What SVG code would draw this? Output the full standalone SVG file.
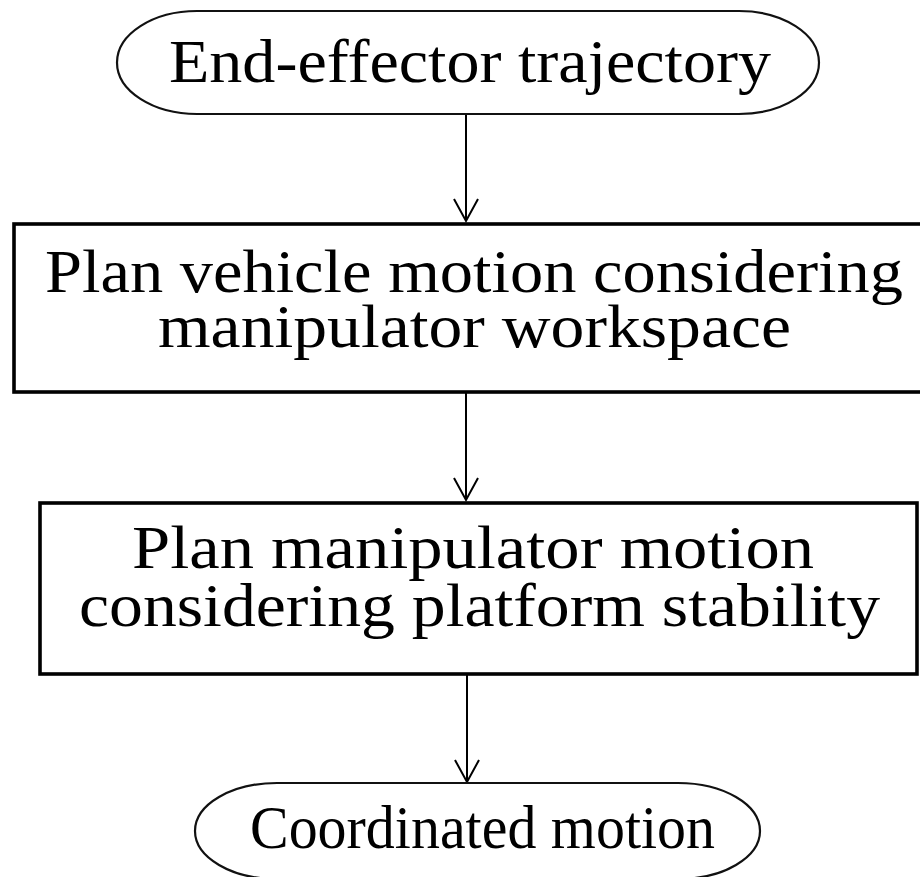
<svg xmlns="http://www.w3.org/2000/svg" width="920" height="877" viewBox="0 0 920 877">
  <defs>
    <style>
      .terminal { fill: #ffffff; stroke: #111111; stroke-width: 2.2; }
      .process { fill: #ffffff; stroke: #000000; stroke-width: 3.6; }
      .label { font-family: "Liberation Serif", "Times New Roman", serif; font-size: 61px; fill: #000000; }
      .flow { fill: none; stroke: #000000; stroke-width: 2; }
    </style>
    <!-- open V arrowhead, tip at the end of the line -->
    <marker id="vhead" markerUnits="userSpaceOnUse" markerWidth="26" markerHeight="28"
            viewBox="0 0 26 28" refX="23" refY="13" orient="auto">
      <path d="M1,1 L23,13 L1,25" fill="none" stroke="#000000" stroke-width="2"/>
    </marker>
  </defs>

  <rect x="0" y="0" width="920" height="877" fill="#ffffff"/>

  <g id="connectors">
    <line class="flow" x1="466" y1="114" x2="466" y2="221" marker-end="url(#vhead)"/>
    <line class="flow" x1="466" y1="392" x2="466" y2="500" marker-end="url(#vhead)"/>
    <line class="flow" x1="467" y1="674" x2="467" y2="782" marker-end="url(#vhead)"/>
  </g>

  <g id="start">
    <rect class="terminal" x="117" y="11" width="702" height="103" rx="80" ry="51.5"/>
    <text class="label" x="169" y="82" textLength="602" lengthAdjust="spacingAndGlyphs">End-effector trajectory</text>
  </g>

  <g id="plan-vehicle">
    <rect class="process" x="14" y="224" width="912" height="168"/>
    <text class="label" x="45" y="292" textLength="858" lengthAdjust="spacingAndGlyphs">Plan vehicle motion considering</text>
    <text class="label" x="158" y="347" textLength="633" lengthAdjust="spacingAndGlyphs">manipulator workspace</text>
  </g>

  <g id="plan-manipulator">
    <rect class="process" x="40" y="503" width="877" height="171"/>
    <text class="label" x="132" y="568" textLength="682" lengthAdjust="spacingAndGlyphs">Plan manipulator motion</text>
    <text class="label" x="79" y="626" textLength="801" lengthAdjust="spacingAndGlyphs">considering platform stability</text>
  </g>

  <g id="end">
    <rect class="terminal" x="195" y="783" width="565" height="96" rx="82" ry="48"/>
    <text class="label" x="250" y="848" textLength="465" lengthAdjust="spacingAndGlyphs">Coordinated motion</text>
  </g>
</svg>
